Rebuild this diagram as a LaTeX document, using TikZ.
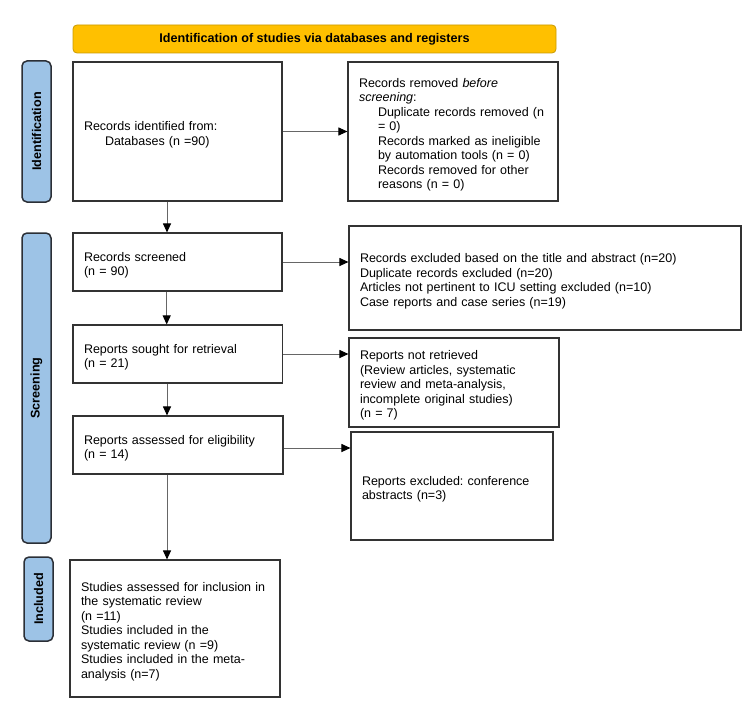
\documentclass[tikz,border=0pt]{standalone}
\usepackage{fontspec}
\setmainfont{Liberation Sans}
\usetikzlibrary{arrows.meta}
\frenchspacing
\definecolor{titlefill}{HTML}{FFC000}
\definecolor{titledraw}{HTML}{C99A00}
\definecolor{sidefill}{HTML}{9DC3E6}
\definecolor{sidedraw}{HTML}{2B2F36}
\definecolor{boxdraw}{HTML}{333333}
\definecolor{linegray}{HTML}{666666}
\tikzset{
  txt/.style={font=\fontsize{12.5}{14.5}\selectfont\frenchspacing},
  flowbox/.style={draw=boxdraw, line width=1.1pt, rectangle, fill=white, txt,
    align=left, inner xsep=11pt, inner ysep=0pt,
    execute at begin node={\rule{0pt}{15.5pt}}},
  sidebox/.style={draw=sidedraw, line width=1.5pt, fill=sidefill, rounded corners=5pt,
    rotate=90, font=\fontsize{12.6}{14}\selectfont\bfseries, inner sep=0pt},
  titlebox/.style={draw=titledraw, line width=0.8pt, fill=titlefill, rounded corners=4pt,
    font=\fontsize{12.6}{14}\selectfont\bfseries, inner sep=0pt},
  flowarrow/.style={draw=linegray, line width=1pt, -{Triangle[length=9pt,width=8pt,fill=black,color=black]}}
}
\newcommand{\ind}{\hspace*{19pt}}
\begin{document}
\begin{tikzpicture}[x=1pt,y=-1pt]
\useasboundingbox (0,0) rectangle (750,701);

\node[titlebox, minimum width=483pt, minimum height=28pt] (title) at (314.5,39) {Identification of studies via databases and registers};

\node[sidebox, minimum width=141pt, minimum height=29pt] (sid) at (36.5,131.5) {Identification};
\node[sidebox, minimum width=310pt, minimum height=29pt] (ssc) at (36.5,388) {Screening};
\node[sidebox, minimum width=84pt, minimum height=29pt] (sin) at (38.5,599) {Included};

\node[flowbox, text width=187pt, minimum height=139pt] (b1) at (177.5,131.5)
  {Records identified from:\\\hspace*{21pt}Databases (n =90)};
\node[flowbox, text width=188pt, minimum height=139pt] (r1) at (453,131.5)
  {Records removed \textit{before}\\\textit{screening}:\\
   \ind Duplicate records removed (n\\\ind = 0)\\
   \ind Records marked as ineligible\\\ind by automation tools (n = 0)\\
   \ind Records removed for other\\\ind reasons (n = 0)};

\node[flowbox, text width=187pt, minimum height=58pt] (b2) at (177.5,262)
  {Records screened\\(n = 90)};
\node[flowbox, text width=370pt, minimum height=104pt] (r2) at (545,278)
  {Records excluded based on the title and abstract (n=20)\\
   Duplicate records excluded (n=20)\\
   Articles not pertinent to ICU setting excluded (n=10)\\
   Case reports and case series (n=19)};

\node[flowbox, text width=187.6pt, minimum height=58pt] (b3) at (177.8,354)
  {Reports sought for retrieval\\(n = 21)};
\node[flowbox, text width=188pt, minimum height=89pt] (r3) at (454,382.5)
  {Reports not retrieved\\(Review articles, systematic\\review and meta-analysis,\\incomplete original studies)\\(n = 7)};

\node[flowbox, text width=188pt, minimum height=58pt] (b4) at (178,445)
  {Reports assessed for eligibility\\(n = 14)};
\node[flowbox, text width=180pt, minimum height=108pt] (r4) at (452,486)
  {Reports excluded: conference\\abstracts (n=3)};

\node[flowbox, text width=188pt, minimum height=137pt] (b5) at (175,628.5)
  {Studies assessed for inclusion in\\the systematic review\\(n =11)\\Studies included in the\\systematic review (n =9)\\Studies included in the meta-\\analysis (n=7)};

\draw[flowarrow] (b1.east) -- (b1.east -| r1.west);
\draw[flowarrow] (b2.east) -- (b2.east -| r2.west);
\draw[flowarrow] (b3.east) -- (b3.east -| r3.west);
\draw[flowarrow] ([yshift=-3pt]b4.east) -- ([yshift=-3pt]b4.east -| r4.west);

\draw[flowarrow] ([xshift=-10.5pt]b1.south) -- ([xshift=-10.5pt]b1.south |- b2.north);
\draw[flowarrow] ([xshift=-10.8pt]b2.south) -- ([xshift=-10.8pt]b2.south |- b3.north);
\draw[flowarrow] ([xshift=-10.8pt]b3.south) -- ([xshift=-10.8pt]b3.south |- b4.north);
\draw[flowarrow] ([xshift=-11pt]b4.south) -- ([xshift=-11pt]b4.south |- b5.north);
\end{tikzpicture}
\end{document}
